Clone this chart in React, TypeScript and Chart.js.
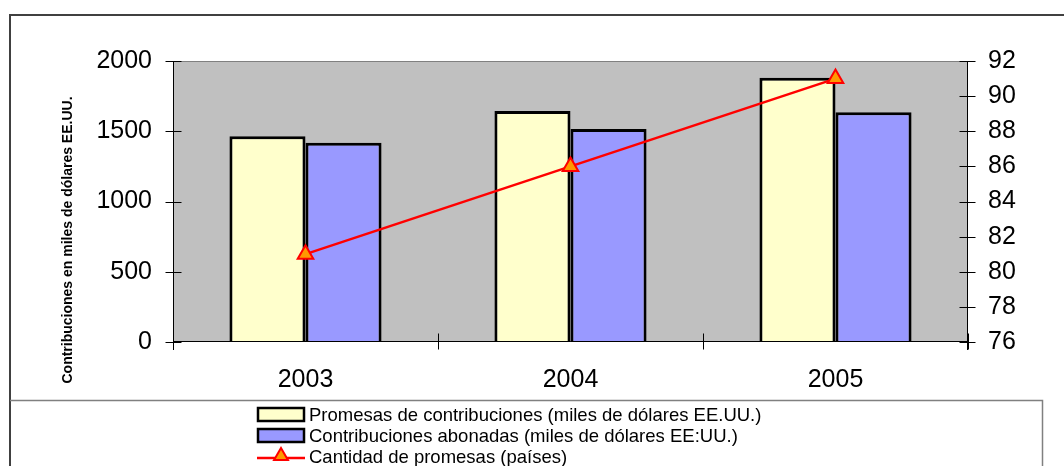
import React, { useEffect, useRef } from "react";
import { Chart, registerables } from "chart.js";

Chart.register(...registerables);

const years = ["2003", "2004", "2005"];
const promesas = [1465, 1645, 1880];
const abonadas = [1418, 1516, 1635];
const paises = [81, 86, 91];
const leftTicks = [0, 500, 1000, 1500, 2000];
const rightTicks = [76, 78, 80, 82, 84, 86, 88, 90, 92];

const labelPromesas = "Promesas de contribuciones (miles de dólares EE.UU.)";
const labelAbonadas = "Contribuciones abonadas (miles de dólares EE:UU.)";
const labelPaises = "Cantidad de promesas (países)";
const yTitle = "Contribuciones en miles de dólares EE.UU.";

const FONT = "'Liberation Sans', Arial, sans-serif";
const YELLOW = "#FFFFCC";
const BLUE = "#9999FF";
const RED = "#FF0000";
const ORANGE = "#FF9900";

function drawTriangle(ctx: CanvasRenderingContext2D, x: number, y: number, r: number) {
  ctx.beginPath();
  ctx.moveTo(x, y - r);
  ctx.lineTo(x + r * Math.sin(Math.PI / 3), y + r * 0.5);
  ctx.lineTo(x - r * Math.sin(Math.PI / 3), y + r * 0.5);
  ctx.closePath();
  ctx.fillStyle = ORANGE;
  ctx.fill();
  ctx.strokeStyle = RED;
  ctx.lineWidth = 2;
  ctx.stroke();
}

const decorPlugin = {
  id: "decor",
  beforeDraw(chart: any) {
    const { ctx, chartArea: a } = chart;
    ctx.save();
    ctx.fillStyle = "#ffffff";
    ctx.fillRect(0, 0, chart.width, chart.height);
    ctx.strokeStyle = "#404040";
    ctx.lineWidth = 2;
    ctx.beginPath();
    ctx.moveTo(10, chart.height + 2);
    ctx.lineTo(10, 15);
    ctx.lineTo(chart.width + 2, 15);
    ctx.stroke();
    ctx.fillStyle = "#C0C0C0";
    ctx.fillRect(a.left, a.top, a.right - a.left, a.bottom - a.top);
    ctx.strokeStyle = "#808080";
    ctx.lineWidth = 1;
    ctx.strokeRect(a.left + 0.5, a.top + 0.5, a.right - a.left - 1, a.bottom - a.top - 1);
    ctx.restore();
  },
  afterDraw(chart: any) {
    const { ctx, chartArea: a, scales } = chart;
    const yL = scales.y;
    const yR = scales.y1;
    ctx.save();
    ctx.strokeStyle = "#000";
    ctx.lineWidth = 1;
    const L = Math.round(a.left) + 0.5;
    const R = Math.round(a.right) - 0.5;
    const B = Math.round(a.bottom) - 0.5;
    ctx.beginPath();
    ctx.moveTo(L, a.top);
    ctx.lineTo(L, a.bottom + 8);
    leftTicks.forEach((v) => {
      const y = Math.round(yL.getPixelForValue(v)) + 0.5;
      ctx.moveTo(L - 8, y);
      ctx.lineTo(L + 8, y);
    });
    ctx.moveTo(R, a.top);
    ctx.lineTo(R, a.bottom + 8);
    rightTicks.forEach((v) => {
      const y = Math.round(yR.getPixelForValue(v)) + 0.5;
      ctx.moveTo(R - 8, y);
      ctx.lineTo(R + 8, y);
    });
    ctx.moveTo(a.left, B);
    ctx.lineTo(a.right, B);
    const n = years.length;
    for (let i = 0; i <= n; i++) {
      const x = Math.round(a.left + ((a.right - a.left) * i) / n) + 0.5;
      ctx.moveTo(x, B - 8);
      ctx.lineTo(x, B + 8);
    }
    ctx.stroke();

    ctx.save();
    ctx.translate(68, 240);
    ctx.rotate(-Math.PI / 2);
    ctx.font = `bold 14px ${FONT}`;
    ctx.fillStyle = "#000";
    ctx.textAlign = "center";
    ctx.textBaseline = "middle";
    ctx.fillText(yTitle, 0, 0);
    ctx.restore();

    ctx.strokeStyle = "#808080";
    ctx.lineWidth = 1.5;
    ctx.beginPath();
    ctx.moveTo(10, 400.5);
    ctx.lineTo(1042.5, 400.5);
    ctx.lineTo(1042.5, chart.height + 2);
    ctx.stroke();

    const iconX = 258;
    const iconW = 46;
    const textX = 309;
    ctx.font = `18.5px ${FONT}`;
    ctx.textAlign = "left";
    ctx.textBaseline = "alphabetic";
    const rows = [
      { label: labelPromesas, color: YELLOW, base: 421 },
      { label: labelAbonadas, color: BLUE, base: 442 },
    ];
    rows.forEach((r) => {
      ctx.fillStyle = r.color;
      ctx.fillRect(iconX, r.base - 13, iconW, 13);
      ctx.strokeStyle = "#000";
      ctx.lineWidth = 2.5;
      ctx.strokeRect(iconX, r.base - 13, iconW, 13);
      ctx.fillStyle = "#000";
      ctx.fillText(r.label, textX, r.base);
    });
    const lb = 463;
    ctx.strokeStyle = RED;
    ctx.lineWidth = 2.5;
    ctx.beginPath();
    ctx.moveTo(iconX - 1, lb - 5);
    ctx.lineTo(iconX + iconW + 1, lb - 5);
    ctx.stroke();
    drawTriangle(ctx, iconX + iconW / 2, lb - 7, 8);
    ctx.fillStyle = "#000";
    ctx.fillText(labelPaises, textX, lb);
    ctx.restore();
  },
};

export default function App() {
  const ref = useRef<HTMLCanvasElement | null>(null);
  useEffect(() => {
    if (!ref.current) return;
    const chart = new Chart(ref.current, {
      type: "bar",
      data: {
        labels: years,
        datasets: [
          {
            type: "line",
            label: labelPaises,
            data: paises,
            yAxisID: "y1",
            borderColor: RED,
            borderWidth: 2.5,
            pointStyle: "triangle",
            pointRadius: 9,
            pointBackgroundColor: ORANGE,
            pointBorderColor: RED,
            pointBorderWidth: 2,
            fill: false,
            tension: 0,
            order: 0,
          } as any,
          {
            type: "bar",
            label: labelPromesas,
            data: promesas,
            yAxisID: "y",
            backgroundColor: YELLOW,
            borderColor: "#000",
            borderWidth: 3,
            categoryPercentage: 0.574,
            barPercentage: 1,
            order: 1,
          },
          {
            type: "bar",
            label: labelAbonadas,
            data: abonadas,
            yAxisID: "y",
            backgroundColor: BLUE,
            borderColor: "#000",
            borderWidth: 3,
            categoryPercentage: 0.574,
            barPercentage: 1,
            order: 1,
          },
        ],
      },
      options: {
        animation: false,
        responsive: false,
        maintainAspectRatio: false,
        layout: { padding: { left: 20, right: 20, top: 61, bottom: 64 } },
        plugins: {
          legend: { display: false },
          tooltip: { enabled: false },
          title: { display: false },
        },
        scales: {
          x: {
            grid: { display: false, drawTicks: false },
            border: { display: false },
            ticks: { color: "#000", font: { family: FONT, size: 25 }, padding: 23 },
            afterFit: (s: any) => {
              s.height = 60;
            },
          },
          y: {
            position: "left",
            min: 0,
            max: 2000,
            grid: { display: false, drawTicks: false },
            border: { display: false },
            ticks: {
              stepSize: 500,
              color: "#000",
              font: { family: FONT, size: 25 },
              padding: 21,
              callback: (v: any) => String(v),
            },
            afterFit: (s: any) => {
              s.width = 153;
            },
          },
          y1: {
            position: "right",
            min: 76,
            max: 92,
            grid: { display: false, drawTicks: false },
            border: { display: false },
            ticks: {
              stepSize: 2,
              color: "#000",
              font: { family: FONT, size: 25 },
              padding: 20,
              callback: (v: any) => String(v),
            },
            afterFit: (s: any) => {
              s.width = 76;
            },
          },
        },
      },
      plugins: [decorPlugin],
    });
    return () => chart.destroy();
  }, []);
  return (
    <div style={{ position: "absolute", left: 0, top: 0, width: 1064, height: 466 }}>
      <canvas ref={ref} width={1064} height={466} />
    </div>
  );
}
